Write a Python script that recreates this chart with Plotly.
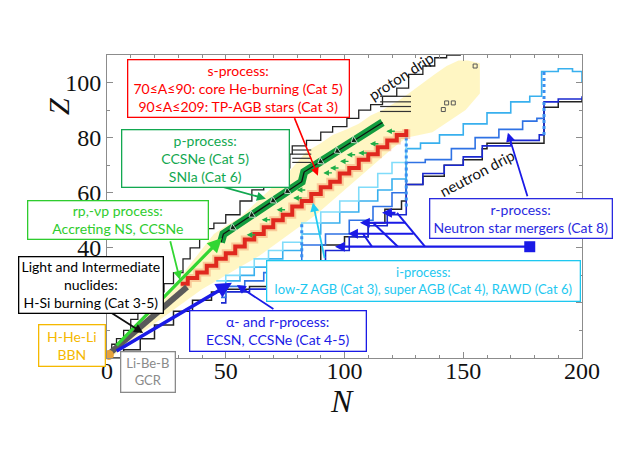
import plotly.graph_objects as go

# ---------------- data (N, Z) ----------------
# yellow band of known nuclides (polygon outline)
yel_N = [0, 2, 7, 13, 21, 28, 35, 42, 45, 50, 56, 61, 66, 71, 77, 84, 90, 95, 101, 106, 111, 116, 122, 127,
         133, 138, 143, 148, 152, 157, 157, 151, 137, 126, 120, 112, 104, 96, 88, 80, 72, 64, 56, 48, 40, 32,
         24, 16, 8, 3]
yel_Z = [0, 2, 6.5, 13, 20, 26, 34, 42, 45, 48, 51, 55, 59, 63, 68, 75, 78, 81, 83, 85, 88, 90, 93, 96,
         100, 103, 106, 108, 108, 107, 96, 90, 82, 80, 76, 70, 64, 58, 52, 47, 42, 37, 33, 29, 25, 20,
         15, 10, 5, 1]

# proton-side black staircase
pd_N = [0, 2, 4, 7, 10, 13, 17, 21, 24, 28, 32, 35, 39, 42, 45, 50, 56, 61, 66, 71, 77, 78, 84, 90, 95,
        101, 106, 111, 116, 122, 127, 133, 138, 143, 149]
pd_Z = [0, 2, 5, 7, 10, 14, 17, 21, 24, 27, 31, 36, 40, 44, 47, 49, 52, 57, 61, 65, 69, 74, 77, 79, 82,
        84, 87, 90, 92, 95, 98, 103, 106, 109, 110]

# neutron-side black staircase (neutron drip)
nd_N = [0, 7, 14, 20, 28, 36, 44, 50, 60, 70, 81, 81, 90, 100, 110, 117, 124, 126, 126, 133, 142, 150,
        158, 160, 184, 184, 190, 200]
nd_Z = [0, 3, 7, 12, 17, 21, 24, 25, 26, 27, 30, 35, 41, 44, 49, 54, 57, 58, 63, 66, 70, 72, 76, 78,
        78, 91, 93, 94]

# r/i-process paths
l1_N = [46, 50, 56, 62, 68, 74, 82, 82, 90, 98, 106, 114, 120, 126, 126]
l1_Z = [28, 30, 33, 36, 39, 42, 45, 49, 53, 57, 62, 67, 71, 75, 80]
l2_N = [48, 50, 56, 62, 68, 74, 82, 82, 90, 98, 106, 114, 120, 126, 126, 132, 140, 150, 160, 170, 178,
        183, 183, 190, 196, 200]
l2_Z = [24, 28, 30, 33, 36, 39, 41, 45, 49, 53, 57, 61, 65, 70, 76, 78, 81, 85, 89, 93, 95, 97, 104,
        105, 104, 100]
l3_N = [48, 50, 58, 66, 74, 82, 82, 92, 102, 112, 120, 126, 126, 134, 145, 155, 165, 175, 181, 184]
l3_Z = [22, 26, 28, 31, 34, 37, 41, 45, 50, 55, 60, 64, 71, 72, 76, 80, 83, 86, 87, 88]
l4_N = [48, 50, 60, 70, 82, 82, 92, 102, 110, 118, 126, 126, 133, 142, 150, 158, 170, 182, 184, 184,
        190, 200]
l4_Z = [20, 24, 25, 27, 30, 35, 39, 44, 48, 52, 55, 63, 67, 70, 73, 77, 79, 81, 81, 93, 94, 95]

# waiting-point columns (N, Zmin, Zmax)
wp_N = [82, 126, 184]
wp_Z0 = [30, 55, 81]
wp_Z1 = [49, 82, 104]

# s-process path
s_N = [31, 34, 38, 42, 46, 50, 54, 58, 62, 66, 70, 74, 78, 82, 86, 90, 94, 98, 102, 106, 110, 114, 118,
       122, 126]
s_Z = [27, 29, 31, 33.5, 36, 38, 40.5, 43, 45, 47.5, 50, 52, 55, 57, 59.5, 62, 64, 67, 69, 72, 74, 76.5,
       79, 81, 83]

# p-process path (green) with flow arrows
p_N = [48, 49, 82, 83, 116]
p_Z = [42, 45, 64, 67.5, 85.5]
pk_N = [116, 104, 97, 90, 83, 82, 76, 70, 61, 53, 49, 48]
pk_Z = [85.5, 78.95, 75.1, 71.3, 67.5, 64, 60.5, 57.1, 51.9, 47.3, 45, 42]
pk_arrow = [0, 1, 1, 1, 0, 0, 1, 1, 1, 1, 0, 0]

# small p-process (gamma,n) arrows
pg_N = [117.6, 110.7, 105.8, 100.9, 98.1, 93.9, 91.1, 78.4, 79.9, 71.4, 65.1, 58.8]
pg_Z = [82.3, 77.8, 74.4, 73.8, 71.4, 69.0, 67.2, 58.1, 61.0, 53.8, 50.2, 44.7]

# light-nuclide band, rp path, alpha path
ln_N = [1.3, 33.7]
ln_Z = [1.8, 25.8]
rp_N = [3.4, 48.4]
rp_Z = [4.0, 43.6]
al_N = [3.4, 52.6]
al_Z = [2.2, 27.3]

# horizontal black bars near proton drip
bar_Z = [71, 72.5, 74, 75.5, 89.5, 91.3, 93, 95]
bar_N0 = [78, 78, 78, 78, 115, 115, 115, 115]
bar_N1 = [86, 86, 86, 86, 128, 128, 128, 128]

# superheavy squares
sh_N = [141.6, 143, 145.8, 155]
sh_Z = [90.2, 92.6, 92.6, 106]

# r-process (NSM) branching diagram
nsm_src = (178, 40.4)
nsm_arrows = [((178, 40.4), (96, 40.4)), ((129.7, 45.1), (101.5, 45.1)),
              ((126.3, 49.1), (106.5, 49.1)), ((122.1, 52.7), (115.8, 52.7))]
nsm_diag_N = [(133.9, 122.1), (122.5, 112.0), (111.6, 107.8)]
nsm_diag_Z = [(40.4, 52.7), (40.4, 49.1), (40.4, 45.1)]

# axis ticks
x_ticks = [0, 50, 100, 150, 200]
y_ticks = [0, 20, 40, 60, 80, 100]
y_tick_text = ["", "", "40", "60", "80", "100"]   # 0 and 20 are hidden behind the boxes

# ---------------- figure ----------------
# page body has an 8px margin; plot area must land at x 107..582, y 55..358 of the window
OFF = 8
W, H = 643 - OFF, 455 - OFF
L, R, T, B = 107 - OFF, 61, 55 - OFF, 97
PX0, PY1 = 107, 358
PW, PH = 475, 303
FONT = "Lato"


def pxp(px):
    return (px - PX0) / PW


def pyp(py):
    return (PY1 - py) / PH


fig = go.Figure()


def line(x, y, color, width, shape="linear", dash="solid", opacity=1.0):
    fig.add_trace(go.Scatter(x=x, y=y, mode="lines", line=dict(color=color, width=width, shape=shape, dash=dash),
                             opacity=opacity, hoverinfo="skip", showlegend=False))


fig.add_trace(go.Scatter(x=yel_N, y=yel_Z, mode="lines", fill="toself", fillcolor="rgba(255,244,185,0.85)",
                         line=dict(width=0), hoverinfo="skip", showlegend=False))

line(pd_N, pd_Z, "#222222", 1.3, "vh")
line(nd_N, nd_Z, "#222222", 1.5, "hv")

bx, by = [], []
for z, a, b in zip(bar_Z, bar_N0, bar_N1):
    bx += [a, b, None]
    by += [z, z, None]
line(bx, by, "#333333", 1.2)

line(l4_N, l4_Z, "#1a28d0", 1.6, "hv")
line(l3_N, l3_Z, "#2f72e4", 1.6, "hv")
line(l2_N, l2_Z, "#38b0ee", 1.6, "hv")
line(l1_N, l1_Z, "#80dcfa", 1.6, "hv")

for n, z0, z1 in zip(wp_N, wp_Z0, wp_Z1):
    line([n, n], [z0, z1], "#3a8ff0", 3, dash="dot")

line(s_N, s_Z, "rgba(240,140,90,0.40)", 8, "hv")
line(s_N, s_Z, "#e0281e", 4, "hv")

line(ln_N, ln_Z, "#5a5a5a", 6)

fig.add_trace(go.Scatter(x=sh_N, y=sh_Z, mode="markers",
                         marker=dict(symbol="square-open", size=4, color="#555555"),
                         hoverinfo="skip", showlegend=False))

line(p_N, p_Z, "#129c3e", 8)
fig.add_trace(go.Scatter(x=pk_N, y=pk_Z, mode="lines+markers",
                         line=dict(color="#111111", width=1.3),
                         marker=dict(symbol="triangle-up", size=[7 * a for a in pk_arrow], color="#111111",
                                     angleref="previous"),
                         hoverinfo="skip", showlegend=False))

# NSM diagonals and source square
dx, dy = [], []
for (n0, n1), (z0, z1) in zip(nsm_diag_N, nsm_diag_Z):
    dx += [n0, n1, None]
    dy += [z0, z1, None]
line(dx, dy, "#1a1ae6", 2)
fig.add_trace(go.Scatter(x=[nsm_src[0]], y=[nsm_src[1]], mode="markers",
                         marker=dict(symbol="square", size=11, color="#1a1ae6"),
                         hoverinfo="skip", showlegend=False))

# BBN dot
fig.add_trace(go.Scatter(x=[0.8], y=[1.1], mode="markers", marker=dict(size=10, color="#e6a23c"),
                         cliponaxis=False, hoverinfo="skip", showlegend=False))

ann = []


def data_arrow(tail, head, color, width, size=1.0, head_style=2):
    ann.append(dict(x=head[0], y=head[1], ax=tail[0], ay=tail[1], xref="x", yref="y", axref="x", ayref="y",
                    showarrow=True, arrowhead=head_style, arrowsize=size, arrowwidth=width, arrowcolor=color,
                    text=""))


def px_arrow(head, off, color, width=1.6, size=1.0):
    ann.append(dict(x=head[0], y=head[1], ax=off[0], ay=off[1], xref="x", yref="y",
                    showarrow=True, arrowhead=2, arrowsize=size, arrowwidth=width, arrowcolor=color, text=""))


data_arrow((rp_N[0], rp_Z[0]), (rp_N[1], rp_Z[1]), "#33d633", 3.2, 0.9)
data_arrow((al_N[0], al_Z[0]), (al_N[1], al_Z[1]), "#1a1ae6", 3.5, 0.9)
for t, h in nsm_arrows:
    data_arrow(t, h, "#1a1ae6", 2.2, 0.9)
for n, z in zip(pg_N, pg_Z):
    px_arrow((n, z), (10, 0), "#1fae48", 1.4, 0.8)

# box pointer arrows (head in data coords, tail offset in px)
px_arrow((88.8, 66.2), (-24, -59), "#ff0000", 1.6)
px_arrow((66.9, 57.8), (-51, -14), "#12a850", 1.8)
px_arrow((30.7, 28.4), (-10, -40), "#33d633", 1.8)
px_arrow((15.2, 9.1), (-33, -21), "#111111", 1.8)
px_arrow((54.7, 26.5), (38, 25), "#1a1ae6", 1.8)
px_arrow((86.7, 56.4), (12, 57), "#22ccf2", 1.8)
px_arrow((168.8, 81.8), (20, 65), "#1a1ae6", 1.8)

boxes = [
    ("s-process:<br>70≤A≤90: core He-burning (Cat 5)<br>90≤A≤209: TP-AGB stars (Cat 3)", 238, 88, 222, 58, "#ff0000", 14),
    ("p-process:<br>CCSNe (Cat 5)<br>SNIa (Cat 6)", 205, 158, 168, 58, "#12a850", 14),
    ("rp,-νp process:<br>Accreting NS, CCSNe", 117.5, 220, 181, 39, "#2ecc2e", 14),
    ("Light and Intermediate<br>nuclides:<br>H-Si burning (Cat 3-5)", 90.5, 285, 145, 57, "#000000", 14),
    ("H-He-Li<br>BBN", 71.5, 345, 67, 42, "#f5b800", 14),
    ("Li-Be-B<br>GCR", 147.5, 371.5, 55, 41, "#8a8a8a", 13),
    ("α- and r-process:<br>ECSN, CCSNe (Cat 4-5)", 277.5, 330.5, 177, 41, "#1a1ae6", 14),
    ("i-process:<br>low-Z AGB (Cat 3), super AGB (Cat 4), RAWD (Cat 6)", 423, 280.5, 314, 41, "#1ec8f0", 13),
    ("r-process:<br>Neutron star mergers (Cat 8)", 520.5, 218, 183, 40, "#2a2ae0", 14),
]
for text, cx, cy, bw, bh, col, fs in boxes:
    ann.append(dict(text=text, x=pxp(cx), y=pyp(cy), xref="paper", yref="paper", xanchor="center",
                    yanchor="middle", showarrow=False, width=bw - 6, height=bh - 6, borderpad=2,
                    borderwidth=1.3, bordercolor=col, bgcolor="white", align="center", valign="middle",
                    font=dict(family=FONT, size=fs, color=col)))

ann.append(dict(text="proton drip", x=pxp(401), y=pyp(76), xref="paper", yref="paper", showarrow=False,
                xanchor="center", yanchor="middle",
                textangle=-33, font=dict(family=FONT, size=15, color="#111111")))
ann.append(dict(text="neutron drip", x=pxp(477), y=pyp(173), xref="paper", yref="paper", showarrow=False,
                xanchor="center", yanchor="middle",
                textangle=-28, font=dict(family=FONT, size=15, color="#111111")))

# axis titles
ann.append(dict(text="<i>N</i>", x=pxp(342), y=pyp(401), xref="paper", yref="paper", showarrow=False,
                xanchor="center", yanchor="middle",
                font=dict(family="Liberation Serif", size=32, color="#111111")))
ann.append(dict(text="<i>Z</i>", x=pxp(58), y=pyp(107), xref="paper", yref="paper", showarrow=False,
                xanchor="center", yanchor="middle", textangle=-90,
                font=dict(family="Liberation Serif", size=30, color="#111111")))

axis_common = dict(showgrid=False, zeroline=False, showline=True, linecolor="#8c8c8c", linewidth=1,
                   mirror="ticks", ticks="inside", ticklen=6, tickcolor="#8c8c8c", automargin=False,
                   tickfont=dict(family="Liberation Serif", size=24, color="#111111"))

fig.update_layout(
    width=W, height=H, margin=dict(l=L, r=R, t=T, b=B),
    plot_bgcolor="white", paper_bgcolor="white", showlegend=False,
    xaxis=dict(range=[0, 200], tickvals=x_ticks, ticklabelstandoff=-9,
               minor=dict(dtick=10, ticks="inside", ticklen=3, tickcolor="#8c8c8c"),
               **axis_common),
    yaxis=dict(range=[0, 110], tickvals=y_ticks, ticktext=y_tick_text,
               minor=dict(dtick=10, ticks="inside", ticklen=3, tickcolor="#8c8c8c"),
               **axis_common),
    annotations=ann,
)

fig.write_html("out.html")
